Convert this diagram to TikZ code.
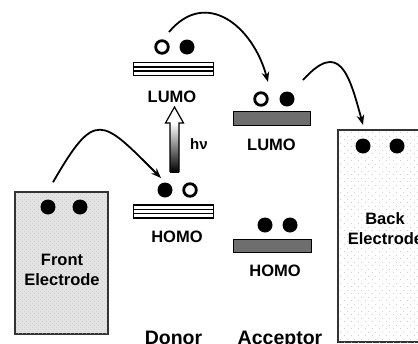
\documentclass[tikz,border=0pt]{standalone}
\usepackage{fontspec}
\setmainfont{Liberation Sans}
\usetikzlibrary{arrows.meta,calc,patterns.meta}

% speckle texture of the front electrode
\tikzdeclarepattern{
  name=finedots, type=uncolored,
  bounding box={(0pt,0pt) and (4pt,4pt)},
  tile size={(4pt,4pt)},
  code={\fill (1pt,1pt) circle (0.5pt); \fill (3pt,3pt) circle (0.45pt);}
}
% sparse dot grid of the back electrode
\tikzdeclarepattern{
  name=sparsedots, type=uncolored,
  bounding box={(0pt,0pt) and (7pt,7pt)},
  tile size={(7pt,7pt)},
  code={\fill (1.75pt,1.75pt) circle (0.55pt); \fill (5.25pt,5.25pt) circle (0.55pt);}
}

\begin{document}
\begin{tikzpicture}[x=1pt,y=1pt,
  lbl/.style={font=\fontsize{16.5}{20}\selectfont\bfseries, anchor=base, inner sep=0},
  biglbl/.style={font=\fontsize{19.5}{23}\selectfont\bfseries, anchor=base, inner sep=0},
  el/.style={circle, fill=black, minimum size=15pt, inner sep=0},
  hole/.style={circle, draw=black, line width=2.8pt, fill=white, minimum size=12.6pt, inner sep=0},
  stripebar/.style={rectangle, draw=black, line width=1.5pt, fill=white,
    minimum width=80pt, minimum height=13pt, inner sep=0,
    path picture={\foreach \f in {0.35,0.65}{
      \draw[line width=1.4pt]
        ($(path picture bounding box.south west)!\f!(path picture bounding box.north west)$) --
        ($(path picture bounding box.south east)!\f!(path picture bounding box.north east)$);}}},
  graybar/.style={rectangle, draw=black, line width=1.2pt, fill=black!57,
    minimum width=78pt, minimum height=14pt, inner sep=0},
  electrode/.style={rectangle, draw=black!80, line width=1.5pt, inner sep=0},
  hop/.style={-{Stealth[length=10pt,width=7.5pt]}, line width=1.8pt}
]
\useasboundingbox (0,0) rectangle (418,-343);
\clip (0,0) rectangle (418,-343);

% electrodes
\node[electrode, fill=black!11, postaction={pattern=finedots, pattern color=black!28},
      minimum width=93pt, minimum height=142pt] (fe) at (61.5,-263) {};
\node[electrode, fill=white, postaction={pattern=sparsedots, pattern color=black!25},
      minimum width=94pt, minimum height=212pt] (be) at (385,-236) {};
\node[lbl] (fet1) at (62,-265) {Front};
\node[lbl] (fet2) at (62,-285) {Electrode};
\node[lbl] (bet1) at (385,-224) {Back};
\node[lbl] (bet2) at (385.5,-244) {Electrode};
\node[el] (fe1) at (48,-207) {};
\node[el] (fe2) at (80,-207) {};
\node[el] (be1) at (363,-146) {};
\node[el] (be2) at (397,-146) {};

% donor levels
\node[stripebar] (dl) at (173.5,-69) {};
\node[stripebar] (dh) at (173.5,-211.5) {};
\node[lbl] (dlt) at (172,-102) {LUMO};
\node[lbl] (dht) at (177,-242) {HOMO};
\node[hole] (dle) at (162,-47) {};
\node[el]   (dlf) at (187,-47) {};
\node[el]   (dhf) at (165,-190) {};
\node[hole] (dhe) at (190,-190) {};

% acceptor levels
\node[graybar, minimum width=77pt] (al) at (272,-118.5) {};
\node[graybar, minimum height=13pt] (ah) at (272.5,-246) {};
\node[lbl] (alt) at (271.5,-150) {LUMO};
\node[lbl] (aht) at (275,-276) {HOMO};
\node[hole] (ale) at (261,-99) {};
\node[el]   (alf) at (287,-99) {};
\node[el]   (ah1) at (265,-225) {};
\node[el]   (ah2) at (290,-225) {};

% photo-excitation arrow
\fill[white] (165.5,-123) -- (174.5,-107) -- (183.5,-123) -- cycle;
\shade[top color=white, bottom color=black] (170,-123) rectangle (179,-172);
\draw[line width=1.2pt, line join=miter]
  (170,-172) -- (170,-123) -- (165.5,-123) -- (174.5,-107) -- (183.5,-123) -- (179,-123) -- (179,-172);
\node[font=\fontsize{15}{18}\selectfont\bfseries, anchor=base west, inner sep=0] (hv) at (190,-149) {hν};

% column labels
\node[biglbl] (don) at (173.5,-344) {Donor};
\node[biglbl] (acc) at (280,-344) {Acceptor};

% charge transfer hops
\draw[hop] ($(fe.north)+(-8.5,9)$) to[out=60,in=135,looseness=2] ($(dhf)+(-4,12)$);
\draw[hop] ($(dle)+(7,15)$) to[out=50,in=105,looseness=1.33] ($(ale)+(7,17)$);
\draw[hop] ($(alf)+(16,19)$) to[out=48,in=105,looseness=1.84] ($(be1)+(0,21)$);
\end{tikzpicture}
\end{document}
